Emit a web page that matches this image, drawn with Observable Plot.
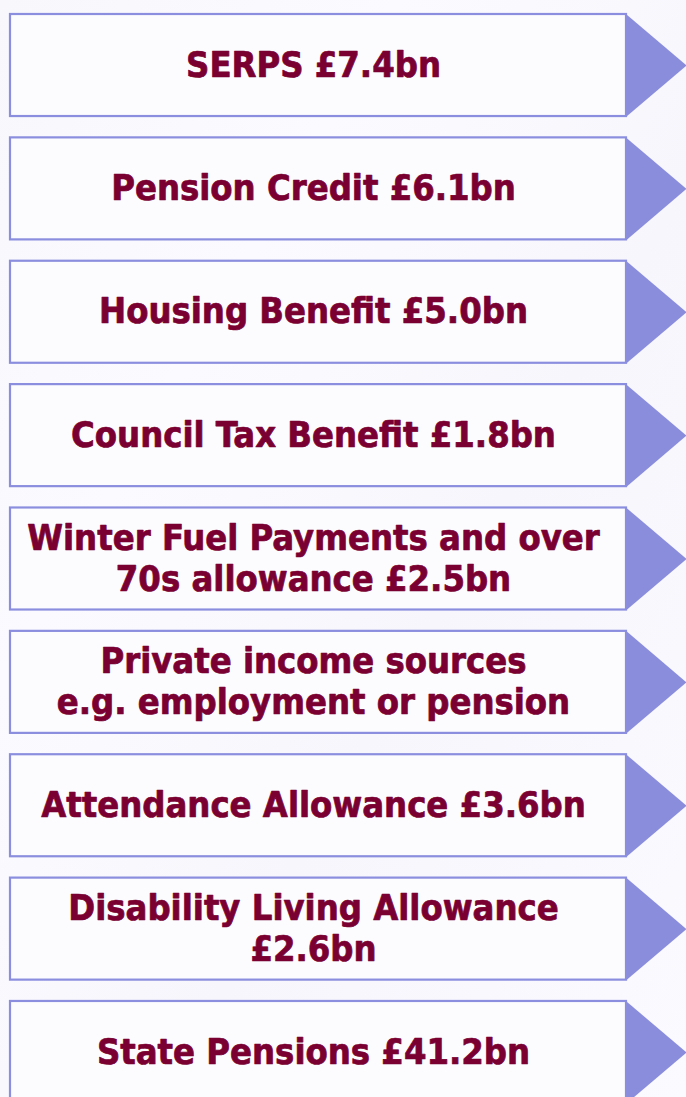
<!DOCTYPE html>
<html>
<head>
<meta charset="utf-8">
<script src="https://cdn.jsdelivr.net/npm/d3@7"></script>
<script src="https://cdn.jsdelivr.net/npm/@observablehq/plot@0.6"></script>
<style>
  html, body { margin: 0; padding: 0; width: 686px; height: 1097px; overflow: hidden;
    background: linear-gradient(120deg, #f7f7fc 0%, #fbfbff 30%, #f6f6fc 60%, #fafaff 100%); }
  #chart svg { display: block; background: transparent !important; overflow: visible; }
  #chart text { font-stretch: condensed; }
</style>
</head>
<body>
<div id="chart"></div>
<script>
// Benefit / income streams (labels as printed, one string per box)
const categories = [
  "SERPS £7.4bn",
  "Pension Credit £6.1bn",
  "Housing Benefit £5.0bn",
  "Council Tax Benefit £1.8bn",
  "Winter Fuel Payments and over\n70s allowance £2.5bn",
  "Private income sources\ne.g. employment or pension",
  "Attendance Allowance £3.6bn",
  "Disability Living Allowance\n£2.6bn",
  "State Pensions £41.2bn"
];
// Amounts in £bn (null where no figure is given)
const amounts = [7.4, 6.1, 5.0, 1.8, 2.5, null, 3.6, 2.6, 41.2];

const rows = categories.map((label, i) => ({label, amount: amounts[i]}));

const boxFill = "#fcfcff";
const border = "#8b8ede";
const arrowFill = "#8a8cdc";
const textColor = "#7a0032";

// custom right-pointing arrowhead symbol
const arrowHead = {
  draw(context) {
    context.moveTo(0, -51);
    context.lineTo(60, 0);
    context.lineTo(0, 51);
    context.closePath();
  }
};

const chart = Plot.plot({
  width: 686,
  height: 1097,
  margin: 0,
  style: {background: "transparent"},
  x: {domain: [0, 686], range: [0, 686], axis: null},
  y: {type: "band", domain: categories, range: [14, 1103], paddingInner: 0.173, paddingOuter: 0, align: 0.5, axis: null, round: false},
  marks: [
    Plot.dot(rows, {x: 626, y: "label", symbol: arrowHead, fill: arrowFill, stroke: "none", r: 10}),
    Plot.barX(rows, {x1: 10, x2: 626, y: "label", fill: boxFill, stroke: border, strokeWidth: 2.2}),
    Plot.text(rows, {
      x: 313, y: "label", text: "label", dy: -2,
      fill: textColor, stroke: textColor, strokeWidth: 0.7,
      fontSize: 36, fontWeight: "bold",
      fontFamily: "'DejaVu Sans Condensed', 'DejaVu Sans', sans-serif",
      lineHeight: 1.14, textAnchor: "middle", lineAnchor: "middle"
    })
  ]
});
document.getElementById("chart").appendChild(chart);
</script>
</body>
</html>
